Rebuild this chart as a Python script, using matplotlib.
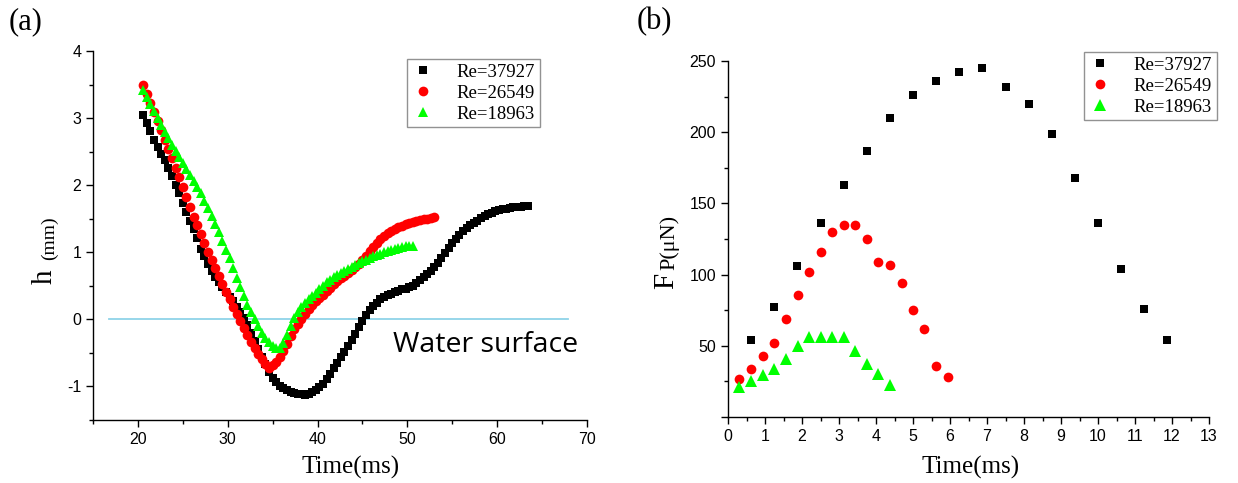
"""Cavity depth h(t) for three Reynolds numbers (a) and the force Fp(t) (b)."""
import matplotlib

matplotlib.use("Agg")
import matplotlib.pyplot as plt  # noqa: E402
import numpy as np  # noqa: E402
from matplotlib.ticker import MultipleLocator  # noqa: E402

plt.rcParams["axes.unicode_minus"] = False

SERIF = "Liberation Serif"
SANS = "Liberation Sans"

LABELS = ["Re=37927", "Re=26549", "Re=18963"]
COLORS = ["black", "red", "#00ff00"]
MARKERS = ["s", "o", "^"]

# ---- panel (a): h in mm, frames every 0.4 ms starting at 20.6 ms
T0_A = 20.6
DT_A = 0.4
h_37927 = [
    3.05, 2.93, 2.81, 2.68, 2.57, 2.47, 2.38, 2.26, 2.14, 2.01,
    1.88, 1.74, 1.60, 1.47, 1.34, 1.22, 1.05, 0.94, 0.83, 0.72,
    0.63, 0.55, 0.48, 0.41, 0.34, 0.27, 0.19, 0.11, 0.02, -0.08,
    -0.20, -0.32, -0.44, -0.56, -0.67, -0.78, -0.88, -0.94, -0.99, -1.03,
    -1.06, -1.09, -1.10, -1.11, -1.11, -1.12, -1.11, -1.09, -1.06, -1.01,
    -0.96, -0.89, -0.82, -0.73, -0.65, -0.56, -0.48, -0.40, -0.31, -0.22,
    -0.12, -0.03, 0.06, 0.14, 0.20, 0.25, 0.30, 0.33, 0.36, 0.38,
    0.41, 0.43, 0.45, 0.46, 0.48, 0.50, 0.54, 0.59, 0.63, 0.67,
    0.72, 0.78, 0.84, 0.91, 0.99, 1.07, 1.14, 1.20, 1.26, 1.31,
    1.36, 1.40, 1.44, 1.47, 1.51, 1.54, 1.57, 1.59, 1.61, 1.63,
    1.64, 1.65, 1.66, 1.67, 1.67, 1.68, 1.69, 1.69,
]
h_26549 = [
    3.50, 3.36, 3.23, 3.09, 2.95, 2.82, 2.68, 2.54, 2.40, 2.26,
    2.12, 1.98, 1.83, 1.68, 1.53, 1.40, 1.27, 1.14, 1.01, 0.89,
    0.77, 0.65, 0.53, 0.41, 0.30, 0.19, 0.08, -0.02, -0.13, -0.23,
    -0.33, -0.43, -0.51, -0.59, -0.66, -0.72, -0.68, -0.63, -0.56, -0.47,
    -0.37, -0.25, -0.15, -0.07, 0.00, 0.08, 0.15, 0.21, 0.27, 0.32,
    0.37, 0.42, 0.47, 0.52, 0.57, 0.61, 0.65, 0.69, 0.73, 0.78,
    0.83, 0.88, 0.95, 1.02, 1.08, 1.14, 1.20, 1.24, 1.28, 1.31,
    1.34, 1.37, 1.39, 1.42, 1.44, 1.45, 1.47, 1.48, 1.49, 1.50,
    1.51, 1.52,
]
h_18963 = [
    3.42, 3.31, 3.21, 3.10, 3.00, 2.90, 2.80, 2.70, 2.60, 2.51,
    2.42, 2.33, 2.24, 2.15, 2.06, 1.97, 1.88, 1.77, 1.66, 1.54,
    1.42, 1.30, 1.17, 1.04, 0.91, 0.76, 0.62, 0.48, 0.35, 0.22,
    0.11, 0.00, -0.10, -0.20, -0.28, -0.34, -0.40, -0.42, -0.43, -0.35,
    -0.24, -0.10, 0.02, 0.11, 0.18, 0.24, 0.30, 0.35, 0.40, 0.45,
    0.50, 0.55, 0.59, 0.63, 0.66, 0.69, 0.72, 0.75, 0.78, 0.81,
    0.84, 0.87, 0.89, 0.92, 0.94, 0.96, 0.98, 1.00, 1.02, 1.04,
    1.05, 1.07, 1.08, 1.09, 1.09, 1.10,
]
WATER_X = [16.8, 67.9]
WATER_H = [0.0, 0.0]

# ---- panel (b): Fp in uN
t_37927 = [0.625, 1.25, 1.875, 2.5, 3.125, 3.75, 4.375, 5.0, 5.625, 6.25,
           6.875, 7.5, 8.125, 8.75, 9.375, 10.0, 10.625, 11.25, 11.875]
fp_37927 = [54, 77, 106, 136, 163, 187, 210, 226, 236, 242,
            245, 232, 220, 199, 168, 136, 104, 76, 54]
t_26549 = [0.31, 0.63, 0.94, 1.25, 1.56, 1.88, 2.19, 2.5, 2.81, 3.13,
           3.44, 3.75, 4.06, 4.38, 4.69, 5.0, 5.31, 5.63, 5.94]
fp_26549 = [27, 34, 43, 52, 69, 86, 102, 116, 130, 135,
            135, 125, 109, 107, 94, 75, 62, 36, 28]
t_18963 = [0.31, 0.63, 0.94, 1.25, 1.56, 1.88, 2.19, 2.5, 2.81, 3.13,
           3.44, 3.75, 4.06, 4.38]
fp_18963 = [21, 25, 29.5, 34, 40.5, 50, 56, 56, 56, 56,
            46.5, 37, 30.5, 22.5]

W, H = 1238, 483


def px(x, y):
    """Figure fraction from pixel position (origin top-left)."""
    return x / W, 1 - y / H


def style_axes(ax):
    for side in ("top", "right"):
        ax.spines[side].set_visible(False)
    for side in ("left", "bottom"):
        ax.spines[side].set_linewidth(1.0)
    ax.tick_params(which="major", direction="out", length=5, width=1,
                   labelsize=11.5, pad=3.5)
    ax.tick_params(which="minor", direction="out", length=3, width=1)
    for lab in ax.get_xticklabels() + ax.get_yticklabels():
        lab.set_fontfamily(SANS)


def add_legend(ax, anchor):
    leg = ax.legend(loc="upper left", bbox_to_anchor=anchor, borderaxespad=0,
                    frameon=True, fancybox=False, numpoints=1,
                    handlelength=1.2, handletextpad=1.2, labelspacing=0.2,
                    borderpad=0.25, prop={"family": SERIF, "size": 13.5})
    leg.get_frame().set_edgecolor("#777777")
    leg.get_frame().set_linewidth(1.0)


def main():
    fig = plt.figure(figsize=(W / 100, H / 100), dpi=100)

    # ---------------- (a)
    ax = fig.add_axes([93 / W, 1 - 420 / H, 494 / W, 369 / H])
    series_a = [h_37927, h_26549, h_18963]
    sizes_a = [6, 7, 7]
    for h, c, m, ms, lab in zip(series_a, COLORS, MARKERS, sizes_a, LABELS):
        t = T0_A + DT_A * np.arange(len(h))
        ax.plot(t, h, linestyle="none", marker=m, ms=ms, color=c,
                markeredgewidth=0, label=lab)
    ax.plot(WATER_X, WATER_H, color="#8fd3e8", lw=1.3, zorder=0)
    ax.text(48.4, -0.38, "Water surface", family="Open Sans", fontsize=20.5,
            va="center", ha="left")
    ax.set_xlim(15, 70)
    ax.set_ylim(-1.5, 4)
    ax.xaxis.set_minor_locator(MultipleLocator(5))
    ax.yaxis.set_major_locator(MultipleLocator(1))
    ax.yaxis.set_minor_locator(MultipleLocator(0.5))
    ax.set_xticks([20, 30, 40, 50, 60, 70])
    style_axes(ax)
    add_legend(ax, ((407 - 93) / 494, (420 - 59) / 369))

    fig.text(*px(351, 467), "Time(ms)", family=SERIF, fontsize=18,
             ha="center", va="center")
    fig.text(*px(45, 284), "h", family=SERIF, fontsize=21, rotation=90,
             ha="center", va="bottom")
    fig.text(*px(49, 260), "(mm)", family=SERIF, fontsize=14, rotation=90,
             ha="center", va="bottom")
    fig.text(*px(26, 22), "(a)", family=SERIF, fontsize=22,
             ha="center", va="center")

    # ---------------- (b)
    bx = fig.add_axes([728 / W, 1 - 417 / H, 481 / W, 356 / H])
    series_b = [(t_37927, fp_37927), (t_26549, fp_26549), (t_18963, fp_18963)]
    sizes_b = [6, 7, 8]
    for (t, f), c, m, ms, lab in zip(series_b, COLORS, MARKERS, sizes_b, LABELS):
        bx.plot(t, f, linestyle="none", marker=m, ms=ms, color=c,
                markeredgewidth=0, label=lab)
    bx.set_xlim(0, 13)
    bx.set_ylim(0, 250)
    bx.set_xticks(range(0, 14))
    bx.xaxis.set_minor_locator(MultipleLocator(0.5))
    bx.set_yticks([0, 50, 100, 150, 200, 250])
    bx.set_yticklabels(["", "50", "100", "150", "200", "250"])
    bx.yaxis.set_minor_locator(MultipleLocator(25))
    style_axes(bx)
    add_legend(bx, ((1084 - 728) / 481, (417 - 52) / 356))

    fig.text(*px(971, 467), "Time(ms)", family=SERIF, fontsize=18,
             ha="center", va="center")
    fig.text(*px(666, 289), "F", family=SERIF, fontsize=21, rotation=90,
             ha="center", va="bottom")
    fig.text(*px(670, 270), "P(\u03bcN)", family=SERIF, fontsize=16,
             rotation=90, ha="center", va="bottom")
    fig.text(*px(654, 22), "(b)", family=SERIF, fontsize=22,
             ha="center", va="center")

    fig.savefig("out.png", dpi=100)


if __name__ == "__main__":
    main()
